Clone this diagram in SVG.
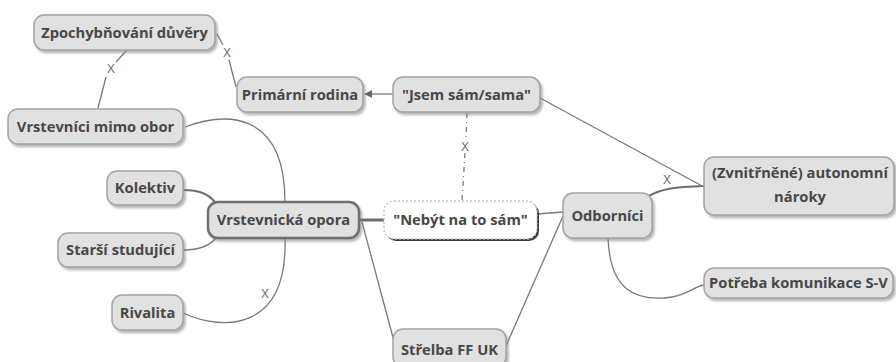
<svg xmlns="http://www.w3.org/2000/svg" width="896" height="362" viewBox="0 0 896 362">
<defs>
<filter id="sh" x="-10%" y="-20%" width="130%" height="160%">
<feDropShadow dx="2" dy="2.5" stdDeviation="1.2" flood-color="#7a7a7a" flood-opacity="0.55"/>
</filter>
<marker id="arr" viewBox="0 0 10 10" refX="9" refY="5" markerWidth="8" markerHeight="8" markerUnits="userSpaceOnUse" orient="auto">
<path d="M0,0 L10,5 L0,10 z" fill="#666"/>
</marker>
<style>
.n rect{fill:#e1e1e1;stroke:#a3a3a3;stroke-width:1.5;filter:url(#sh)}
.n text{font-family:"Open Sans","DejaVu Sans",sans-serif;font-weight:bold;font-size:14.7px;fill:#474747;text-anchor:middle}
.c path{fill:none;stroke:#7a7a7a;stroke-width:1.3}
.c .thick{stroke:#6e6e6e;stroke-width:3}
.c .med{stroke:#6e6e6e;stroke-width:2.2}
.lbl{font-family:"Open Sans","DejaVu Sans",sans-serif;font-size:13px;fill:#6a6a6a;text-anchor:middle}
</style>
</defs>
<rect width="896" height="362" fill="#ffffff"/>
<g id="connectors" class="c">
<path d="M217,34 L223,45"/>
<path d="M229,60 L236,87"/>
<path d="M127,50 L116,62"/>
<path d="M106,77 L98,108"/>
<path d="M185,127 C225,112 285,110 285,202"/>
<path class="med" d="M183,190 C200,190 208,194 215,202"/>
<path d="M183,250 C198,250 210,246 217,237"/>
<path d="M285,238 C288,330 225,332 183,313"/>
<path class="thick" d="M359,220 L384,220"/>
<path d="M362,222 L395,345"/>
<path d="M537,214 L563,212"/>
<path d="M563,216 L506,346"/>
<path d="M608,238 C610,290 635,300 665,298 C688,296 694,286 704,285"/>
<path class="med" d="M647,197 C662,188 676,187 704,186"/>
<path d="M540,98 L704,187"/>
<path d="M393,94 L365,94" marker-end="url(#arr)"/>
<path d="M467,113 L466,138" stroke-dasharray="5,4,1,4"/>
<path d="M465,153 L462,201" stroke-dasharray="5,4,1,4"/>
<text class="lbl" x="227" y="57">X</text>
<text class="lbl" x="111" y="73">X</text>
<text class="lbl" x="265" y="298">X</text>
<text class="lbl" x="465" y="151">X</text>
<text class="lbl" x="667" y="184">X</text>
</g>
<g id="zpochybnovani" class="n"><rect x="34" y="15" width="181" height="35" rx="10"/><text x="124.5" y="37.5">Zpochybňování důvěry</text></g>
<g id="primarni" class="n"><rect x="237" y="77" width="126" height="35" rx="10"/><text x="300" y="99.5">Primární rodina</text></g>
<g id="jsem" class="n"><rect x="393" y="77" width="147" height="35" rx="10"/><text x="466.5" y="99.5">"Jsem sám/sama"</text></g>
<g id="vrstevnici-mimo" class="n"><rect x="8" y="109" width="175" height="35" rx="10"/><text x="95.5" y="131.5">Vrstevníci mimo obor</text></g>
<g id="kolektiv" class="n"><rect x="107" y="171" width="76" height="34" rx="10"/><text x="145" y="193">Kolektiv</text></g>
<g id="starsi" class="n"><rect x="58" y="233" width="125" height="34" rx="10"/><text x="120.5" y="255">Starší studující</text></g>
<g id="rivalita" class="n"><rect x="112" y="295" width="71" height="35" rx="10"/><text x="147.5" y="317.5">Rivalita</text></g>
<g id="vrstevnicka" class="n"><rect x="208" y="202" width="151" height="36" rx="10" style="stroke:#6f6f6f;stroke-width:2.5"/><text x="283.5" y="225">Vrstevnická opora</text></g>
<g id="nebyt" class="n"><rect x="386" y="203" width="153" height="38" rx="10" style="fill:#3a3a3a;stroke:none;filter:none"/><rect x="384" y="201" width="153" height="38" rx="10" style="fill:#ffffff;stroke:#c4c4c4;stroke-dasharray:2,2;filter:none"/><text x="460.5" y="225">"Nebýt na to sám"</text></g>
<g id="odbornici" class="n"><rect x="563" y="193" width="89" height="45" rx="10"/><text x="607.5" y="220.5">Odborníci</text></g>
<g id="zvnitrnene" class="n"><rect x="704" y="157" width="190" height="58" rx="10"/><text x="800" y="178">(Zvnitřněné) autonomní</text><text x="800" y="202">nároky</text></g>
<g id="potreba" class="n"><rect x="704" y="268" width="189" height="30" rx="10"/><text x="798.5" y="288">Potřeba komunikace S-V</text></g>
<g id="strelba" class="n"><rect x="393" y="329" width="113" height="38" rx="10"/><text x="449.5" y="355">Střelba FF UK</text></g>
</svg>
